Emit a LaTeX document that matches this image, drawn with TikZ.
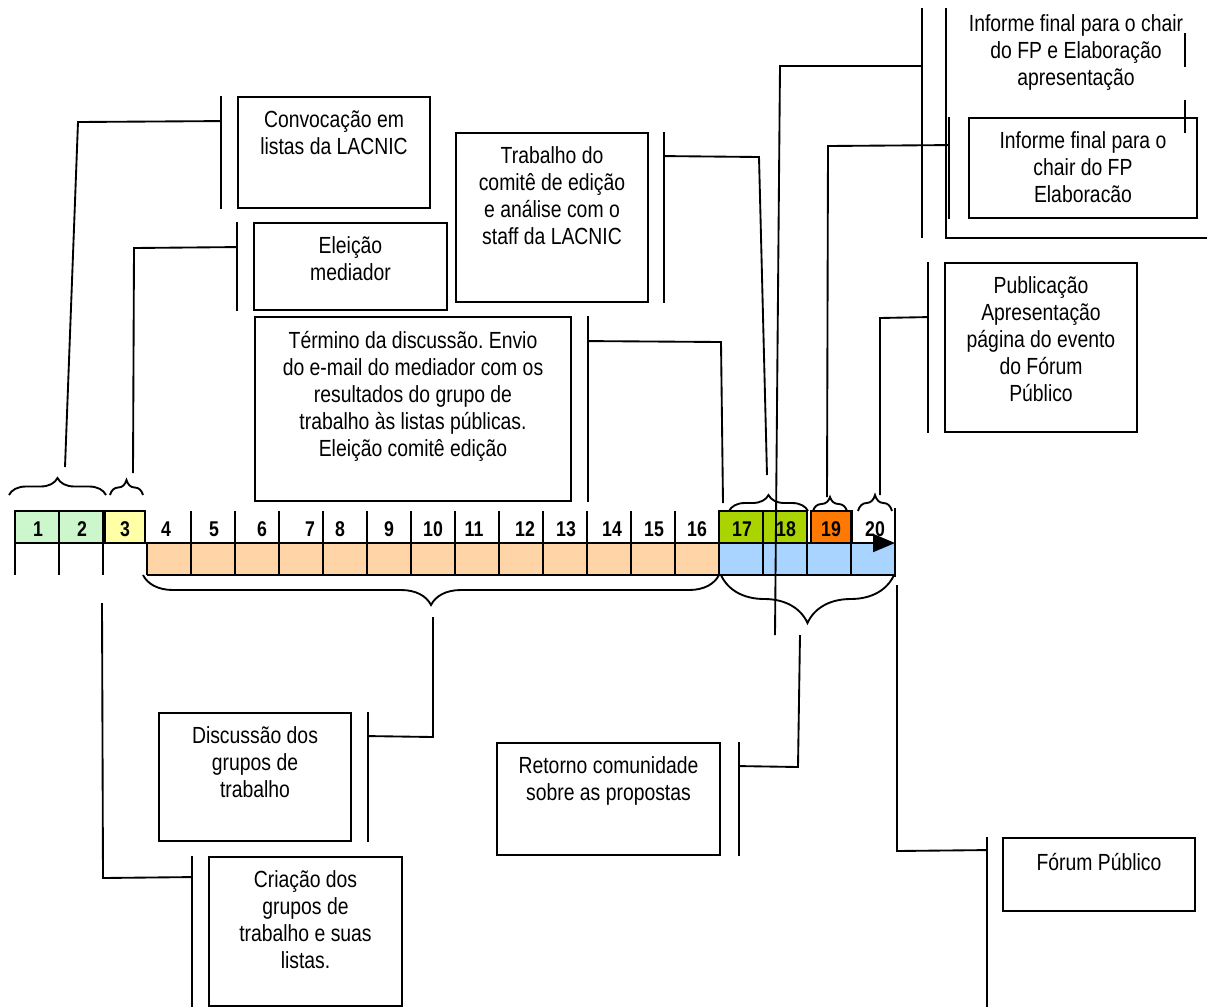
\documentclass[tikz,border=0pt]{standalone}
\usepackage{fontspec}
\setmainfont{Liberation Sans}[FakeStretch=0.83]
\usetikzlibrary{arrows.meta, positioning, decorations.pathreplacing}
\frenchspacing

\definecolor{lgreen}{HTML}{CCF7CC}
\definecolor{lyellow}{HTML}{FFFFA6}
\definecolor{dgreen}{HTML}{AAD400}
\definecolor{dorange}{HTML}{FF7800}
\definecolor{peach}{HTML}{FFD4A6}
\definecolor{lblue}{HTML}{A8D4FF}

\tikzset{
  conn/.style={line width=1.4pt},
  callbox/.style={draw, line width=1.4pt, inner sep=0pt},
  txt/.style={align=center, inner sep=0pt, anchor=north,
    font=\fontsize{17.5pt}{20.25pt}\selectfont, execute at begin node=\strut},
  num/.style={inner sep=0pt, font=\fontsize{16pt}{18pt}\selectfont\bfseries},
  brc/.style={decorate, decoration={brace, amplitude=#1}, line width=1.4pt},
}

\begin{document}
\begin{tikzpicture}[x=0.75pt, y=-0.75pt]
\useasboundingbox (0,0) rectangle (1207,1007);

% timeline cells
\fill[lgreen] (15,511) rectangle (103,543);
\fill[lyellow] (105,511) rectangle (145,543);
\fill[dgreen] (719,511) rectangle (807,543);
\fill[dorange] (811,511) rectangle (852,543);
\fill[peach] (147,543) rectangle (719,575);
\fill[lblue] (719,543) rectangle (895,575);

\draw[conn] (15,511) rectangle (103,543);
\draw[conn] (105,511) rectangle (145,543);
\draw[conn] (719,511) rectangle (807,543);
\draw[conn] (811,511) rectangle (852,543);
\draw[conn] (147,575) -- (895,575);
\draw[conn] (147,543) -- (147,575);
\foreach \x in {15,59,103}
  \draw[conn] (\x,511) -- (\x,575);
\foreach \x in {191,235,...,851}
  \draw[conn] (\x,511) -- (\x,575);
\draw[conn] (895,508) -- (895,577);
\draw[conn, -{Triangle[length=16.5pt, width=13.5pt]}] (15,543) -- (895,543);

\foreach \n/\x in {1/38,2/82,3/125,4/166,5/214,6/262,7/310,8/340,9/389,10/433,
    11/474,12/525,13/566,14/612,15/654,16/697,17/742,18/786,19/831,20/875}
  \node[num] (n\n) at (\x,529) {\n};

% braces
\draw[brc=12.75pt] (9,495) -- (106,495);
\draw[brc=11.25pt] (110,495) -- (143,495);
\draw[brc=12pt] (729,511) -- (808,511);
\draw[brc=10.5pt] (813,511) -- (847,511);
\draw[brc=12pt] (858,511) -- (892,511);
\draw[brc=22.5pt] (719,575) -- (143,575);
\draw[brc=36pt] (894,575) -- (721,575);

\coordinate (b12) at (65,467);
\coordinate (b3) at (133,473);
\coordinate (b1718) at (767,475);
\coordinate (b17) at (723,503);
\coordinate (b19) at (827,497);
\coordinate (b20) at (880,495);
\coordinate (b416) at (433,617);
\coordinate (b1720) at (800,635);
\coordinate (bend) at (897,585);
\coordinate (b3low) at (102,603);
\coordinate (tall) at (775,635);

% boxes
\node[callbox, minimum width=144pt, minimum height=83.25pt] (conv) at (334,152.5) {};
\node[txt, below=11pt of conv.north] {Convocação em\\listas da LACNIC};

\node[callbox, minimum width=144.75pt, minimum height=65.25pt] (elei) at (350.5,266.5) {};
\node[txt, below=11pt of elei.north] {Eleição\\mediador};

\node[callbox, minimum width=144pt, minimum height=126.75pt] (trab) at (552,217.5) {};
\node[txt, below=11pt of trab.north] {Trabalho do\\comitê de edição\\e análise com o\\staff da LACNIC};

\node[callbox, minimum width=237pt, minimum height=138pt] (term) at (413,409) {};
\node[txt, below=11pt of term.north] {Término da discussão. Envio\\do e-mail do mediador com os\\resultados do grupo de\\trabalho às listas públicas.\\Eleição comitê edição};

\node[txt] (infA) at (1076,14) {Informe final para o chair\\do FP e Elaboração\\apresentação};
\draw[conn] (946,8) -- (946,238) -- (1212,238);

\node[callbox, minimum width=171pt, minimum height=75pt] (infB) at (1083,168) {};
\node[txt, below=11pt of infB.north] {Informe final para o\\chair do FP\\Elaboracão};

\node[callbox, minimum width=144pt, minimum height=126.75pt] (publ) at (1041,347.5) {};
\node[txt, below=11pt of publ.north] {Publicação\\Apresentação\\página do evento\\do Fórum\\Público};

\node[callbox, minimum width=144pt, minimum height=96pt] (disc) at (255,777) {};
\node[txt, below=11pt of disc.north] {Discussão dos\\grupos de\\trabalho};

\node[callbox, minimum width=167.25pt, minimum height=84pt] (retn) at (608.5,799) {};
\node[txt, below=11pt of retn.north] {Retorno comunidade\\sobre as propostas};

\node[callbox, minimum width=144pt, minimum height=54.75pt] (forum) at (1099,874.5) {};
\node[txt, below=11pt of forum.north] {Fórum Público};

\node[callbox, minimum width=144.75pt, minimum height=111.75pt] (cria) at (305.5,931.5) {};
\node[txt, below=11pt of cria.north] {Criação dos\\grupos de\\trabalho e suas\\listas.};

% bars beside the boxes
\draw[conn] ([xshift=-12pt]conv.north west) -- ([xshift=-12pt]conv.south west);
\coordinate (convL) at ([xshift=-12pt, yshift=-18.75pt]conv.north west);
\draw[conn] ([xshift=-12pt]elei.north west) -- ([xshift=-12pt]elei.south west);
\coordinate (eleiL) at ([xshift=-12pt, yshift=-18.75pt]elei.north west);
\draw[conn] ([xshift=11.25pt]trab.north east) -- ([xshift=11.25pt]trab.south east);
\coordinate (trabR) at ([xshift=11.25pt, yshift=-18pt]trab.north east);
\draw[conn] ([xshift=12pt]term.north east) -- ([xshift=12pt]term.south east);
\coordinate (termR) at ([xshift=12pt, yshift=-18.75pt]term.north east);
\draw[conn] (922,8) -- (922,238);
\coordinate (infAL) at (922,66);
\draw[conn] ([xshift=-14.25pt]infB.north west) -- ([xshift=-14.25pt]infB.south west);
\coordinate (infBL) at ([xshift=-14.25pt, yshift=-21pt]infB.north west);
\draw[conn] ([xshift=-12pt]publ.north west) -- ([xshift=-12pt]publ.south west);
\coordinate (publL) at ([xshift=-12pt, yshift=-41.25pt]publ.north west);
\draw[conn] ([xshift=12pt]disc.north east) -- ([xshift=12pt]disc.south east);
\coordinate (discR) at ([xshift=12pt, yshift=-18pt]disc.north east);
\draw[conn] ([xshift=13.5pt]retn.north east) -- ([xshift=13.5pt]retn.south east);
\coordinate (retnR) at ([xshift=13.5pt, yshift=-18pt]retn.north east);
\draw[conn] ([xshift=-11.25pt]forum.north west) -- ++(0,172);
\coordinate (forumL) at ([xshift=-11.25pt, yshift=-9.75pt]forum.north west);
\draw[conn] ([xshift=-12pt]cria.north west) -- ([xshift=-12pt]cria.south west);
\coordinate (criaL) at ([xshift=-12pt, yshift=-15.75pt]cria.north west);
\draw[conn] (1185,33) -- (1185,67);
\draw[conn] (1185,100) -- (1185,133);

% connectors
\draw[conn] (b12) -- (78,122) -- (convL);
\draw[conn] (b3) -- (134,248) -- (eleiL);
\draw[conn] (trabR) -- (759,157) -- (b1718);
\draw[conn] (termR) -- (721,342) -- (b17);
\draw[conn] (tall) -- (780,66) -- (infAL);
\draw[conn] (infBL) -- (828,146) -- (b19);
\draw[conn] (publL) -- (880,318) -- (b20);
\draw[conn] (b416) -- (433,737) -- (discR);
\draw[conn] (b1720) -- (798,767) -- (retnR);
\draw[conn] (bend) -- (897,851) -- (forumL);
\draw[conn] (b3low) -- (103,878) -- (criaL);

\end{tikzpicture}
\end{document}
